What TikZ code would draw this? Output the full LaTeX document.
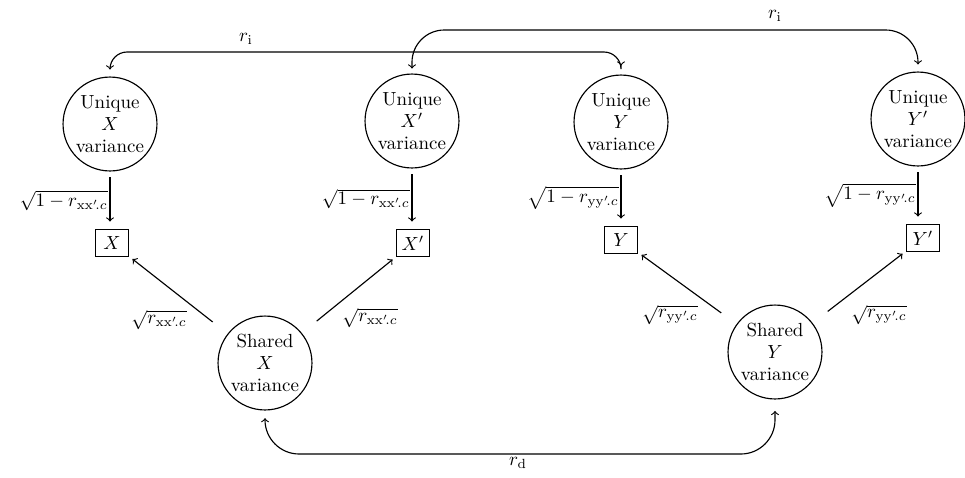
\documentclass[tikz,border=0pt]{standalone}
\usetikzlibrary{calc}
\begin{document}
\begin{tikzpicture}[x=0.527pt,y=-0.527pt, line width=0.6pt,
  uc/.style={circle,draw,minimum size=49.5pt,inner sep=0pt,align=center,font=\fontsize{10}{11.5}\selectfont},
  boxst/.style={rectangle,draw,minimum width=17pt,minimum height=14pt,inner sep=1pt},
  arr/.style={->,>=to},
  barr/.style={<->,>=to},
  lab/.style={inner sep=1pt}]
\useasboundingbox (0,0) rectangle (965,477);
% unique variance circles
\node[uc] (ux)  at (110,124) {Unique\\$X$\\variance};
\node[uc] (uxp) at (412,121) {Unique\\$X'$\\variance};
\node[uc] (uy)  at (621,122) {Unique\\$Y$\\variance};
\node[uc] (uyp) at (918,119) {Unique\\$Y'$\\variance};
% observed boxes
\node[boxst] (bx)  at (112,243) {$X$};
\node[boxst] (bxp) at (413,243) {$X'$};
\node[boxst] (by)  at (621,240) {$Y$};
\node[boxst] (byp) at (923,238) {$Y'$};
% shared variance circles
\node[uc] (sx) at (265,363) {Shared\\$X$\\variance};
\node[uc] (sy) at (775,352) {Shared\\$Y$\\variance};
% vertical arrows
\draw[arr, shorten <=3pt, shorten >=4pt] (ux.south) -- (ux.south |- bx.north)
  node[pos=0.5,left=0pt,lab] (l1) {$\sqrt{1-r_{\mathrm{xx}'\!.c}}$};
\draw[arr, shorten <=3pt, shorten >=4pt] (uxp.south) -- (uxp.south |- bxp.north)
  node[pos=0.5,left=0pt,lab] (l2) {$\sqrt{1-r_{\mathrm{xx}'\!.c}}$};
\draw[arr, shorten <=3pt, shorten >=4pt] (uy.south) -- (uy.south |- by.north)
  node[pos=0.5,left=0pt,lab] (l3) {$\sqrt{1-r_{\mathrm{yy}'\!.c}}$};
\draw[arr, shorten <=3pt, shorten >=4pt] (uyp.south) -- (uyp.south |- byp.north)
  node[pos=0.5,left=0pt,lab] (l4) {$\sqrt{1-r_{\mathrm{yy}'\!.c}}$};
% diagonal arrows
\draw[arr, shorten <=10pt, shorten >=2.5pt] (sx) -- (bx);
\draw[arr, shorten <=10pt, shorten >=2.5pt] (sx) -- (bxp);
\draw[arr, shorten <=10pt, shorten >=2.5pt] (sy) -- (by);
\draw[arr, shorten <=10pt, shorten >=2.5pt] (sy) -- (byp);
\node[lab] (d1) at (159,320) {$\sqrt{r_{\mathrm{xx}'\!.c}}$};
\node[lab] (d2) at (370,318) {$\sqrt{r_{\mathrm{xx}'\!.c}}$};
\node[lab] (d3) at (670,315) {$\sqrt{r_{\mathrm{yy}'\!.c}}$};
\node[lab] (d4) at (879,315) {$\sqrt{r_{\mathrm{yy}'\!.c}}$};
% top correlations
\coordinate (ri1) at (245,52);
\coordinate (ri2) at (773,30);
\draw[barr, rounded corners=9pt, shorten <=3.7pt, shorten >=4.7pt] (ux.north) |- (ri1) -| (uy.north);
\draw[barr, rounded corners=17pt, shorten <=2.6pt, shorten >=3.7pt] (uxp.north) |- (ri2) -| (uyp.north);
\node[lab] (t1) at (246,39) {$r_{\mathrm{i}}$};
\node[lab] (t2) at (775,16) {$r_{\mathrm{i}}$};
% bottom correlation
\coordinate (rdc) at (520,454);
\draw[barr, rounded corners=18pt, shorten <=4pt, shorten >=6pt] (sx.south) |- (rdc) -| (sy.south);
\node[lab] (t3) at (518,463) {$r_{\mathrm{d}}$};
\end{tikzpicture}
\end{document}
